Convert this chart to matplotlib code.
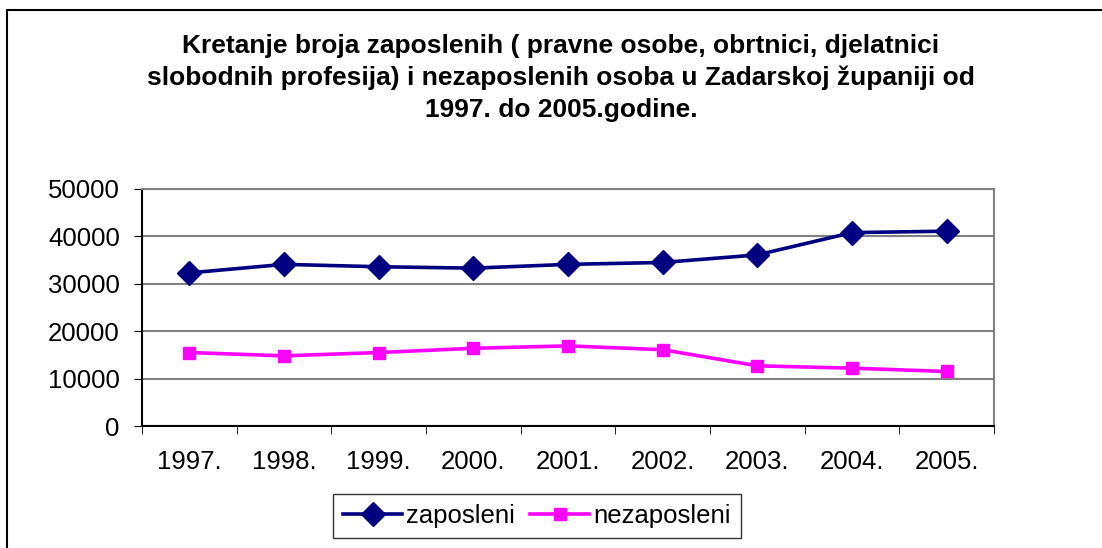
import matplotlib.pyplot as plt
from matplotlib.patches import Rectangle

plt.rcParams['font.family'] = ['Liberation Sans', 'DejaVu Sans']

# godine
years = ['1997.', '1998.', '1999.', '2000.', '2001.', '2002.', '2003.', '2004.', '2005.']
# zaposleni i nezaposleni (procjena iz grafa)
zaposleni = [32300, 34100, 33600, 33300, 34100, 34500, 36100, 40800, 41100]
nezaposleni = [15500, 14800, 15500, 16400, 16900, 16100, 12700, 12200, 11500]

fig = plt.figure(figsize=(11.02, 5.48), dpi=100)
ax = fig.add_axes([142 / 1102, 1 - 426 / 548, 852 / 1102, 237 / 548])

x = list(range(len(years)))
ax.plot(x, zaposleni, color='#000080', lw=2.6, marker='D', ms=12.5, label='zaposleni')
ax.plot(x, nezaposleni, color='#ff00ff', lw=2.6, marker='s', ms=9, label='nezaposleni')

ax.set_xlim(-0.5, len(years) - 0.5)
ax.set_ylim(0, 50000)
ax.set_yticks(range(0, 50001, 10000))
ax.set_xticks(x)
ax.set_xticklabels(years)
ax.set_xticks([i - 0.5 for i in range(len(years) + 1)], minor=True)
ax.tick_params(axis='x', which='major', length=0, labelsize=18.5, pad=17)
ax.tick_params(axis='x', which='minor', length=6, direction='out', color='black')
ax.tick_params(axis='y', labelsize=18.5, length=6, direction='out', pad=10)
ax.grid(axis='y', color='#808080', lw=1.5)
ax.set_axisbelow(True)
for s in ['top', 'right']:
    ax.spines[s].set_color('#808080')
    ax.spines[s].set_linewidth(1.5)
for s in ['left', 'bottom']:
    ax.spines[s].set_color('black')
    ax.spines[s].set_linewidth(1.5)

fig.text(561 / 1102, 1 - 78 / 548,
         'Kretanje broja zaposlenih ( pravne osobe, obrtnici, djelatnici\n'
         'slobodnih profesija) i nezaposlenih osoba u Zadarskoj županiji od\n'
         '1997. do 2005.godine.',
         ha='center', va='center', fontsize=19, fontweight='bold', linespacing=1.4)

leg = fig.legend(loc='center', bbox_to_anchor=(537 / 1102, 1 - 516 / 548), ncol=2,
                 fontsize=18.5, frameon=True, fancybox=False, edgecolor='black',
                 handlelength=2.3, handletextpad=0.15, columnspacing=0.6,
                 borderpad=0.4)
leg.get_frame().set_linewidth(1)

fig.patches.append(Rectangle((7 / 1102, -0.1), 1.2, 1 - 10 / 548 + 0.1,
                             transform=fig.transFigure, fill=False,
                             edgecolor='black', lw=1.5))

fig.savefig('out.png', dpi=100)
